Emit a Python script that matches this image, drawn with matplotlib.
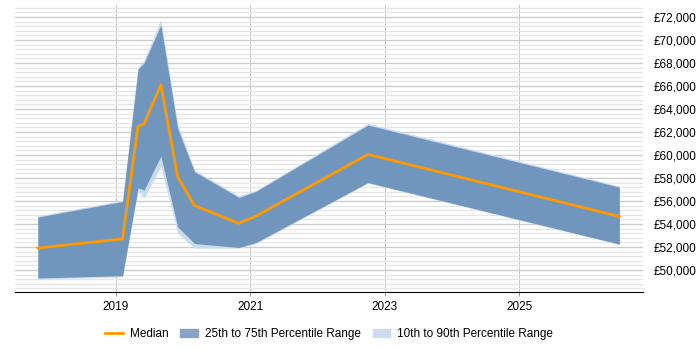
import matplotlib.pyplot as plt
from matplotlib.patches import Patch
from matplotlib.lines import Line2D
from matplotlib.ticker import MultipleLocator, FixedLocator, FuncFormatter

plt.rcParams['font.family'] = ['Liberation Sans', 'DejaVu Sans']

# time points (decimal years) and salary percentiles
years = [2017.84, 2019.10, 2019.33, 2019.42, 2019.67, 2019.92, 2020.17, 2020.83, 2021.09, 2022.75, 2026.49]
p10 = [49200, 49400, 56900, 56250, 59000, 53200, 51900, 51900, 52300, 57550, 52200]
p25 = [49300, 49500, 57150, 56950, 59900, 53750, 52300, 51950, 52400, 57600, 52250]
median = [51900, 52700, 62500, 62700, 66100, 58100, 55600, 54050, 54700, 60050, 54650]
p75 = [54600, 55950, 67450, 68000, 71300, 62300, 58550, 56300, 56850, 62600, 57200]
p90 = [54700, 56050, 67650, 68250, 71800, 62700, 58700, 56450, 56950, 62750, 57300]
year_ticks = [2019, 2021, 2023, 2025]

fig = plt.figure(figsize=(7, 3.5), dpi=100)
ax = fig.add_axes([0.0214, 0.166, 0.897, 0.82])

ax.fill_between(years, p10, p90, color='#c9dbee', lw=0)
ax.fill_between(years, p25, p75, color='#7196be', lw=0)
ax.plot(years, median, color='#ff9900', lw=2)

ax.set_xlim(2017.5, 2026.84)
ax.set_ylim(48090, 73050)

ax.xaxis.set_major_locator(FixedLocator(year_ticks))
ax.xaxis.set_major_formatter(FuncFormatter(lambda v, p: '%d' % v))
ax.yaxis.set_major_locator(MultipleLocator(2000))
ax.yaxis.set_minor_locator(MultipleLocator(400))
ax.yaxis.set_major_formatter(FuncFormatter(lambda v, p: '£{:,.0f}'.format(v)))
ax.yaxis.tick_right()

ax.grid(True, which='major', axis='y', color='#cccccc', lw=1)
ax.grid(True, which='minor', axis='y', color='#e6e6e6', lw=1)
ax.grid(True, which='major', axis='x', color='#bbbbbb', lw=0.6)
ax.set_axisbelow(True)

for s in ['top', 'right', 'left']:
    ax.spines[s].set_visible(False)
ax.spines['bottom'].set_color('black')
ax.tick_params(axis='y', which='both', length=0, labelsize=8.5, pad=8)
ax.tick_params(axis='x', length=3, labelsize=8.5, color='#999999')

handles = [Line2D([0], [0], color='#ff9900', lw=2),
           Patch(color='#87a4c4'),
           Patch(color='#ccdcee')]
labels = ['Median', '25th to 75th Percentile Range', '10th to 90th Percentile Range']
fig.legend(handles, labels, loc='center', bbox_to_anchor=(0.47, 0.045), ncol=3,
           frameon=False, fontsize=8.5, handlelength=1.5, columnspacing=1.0, handletextpad=0.6)

fig.savefig('out.png', dpi=100)
